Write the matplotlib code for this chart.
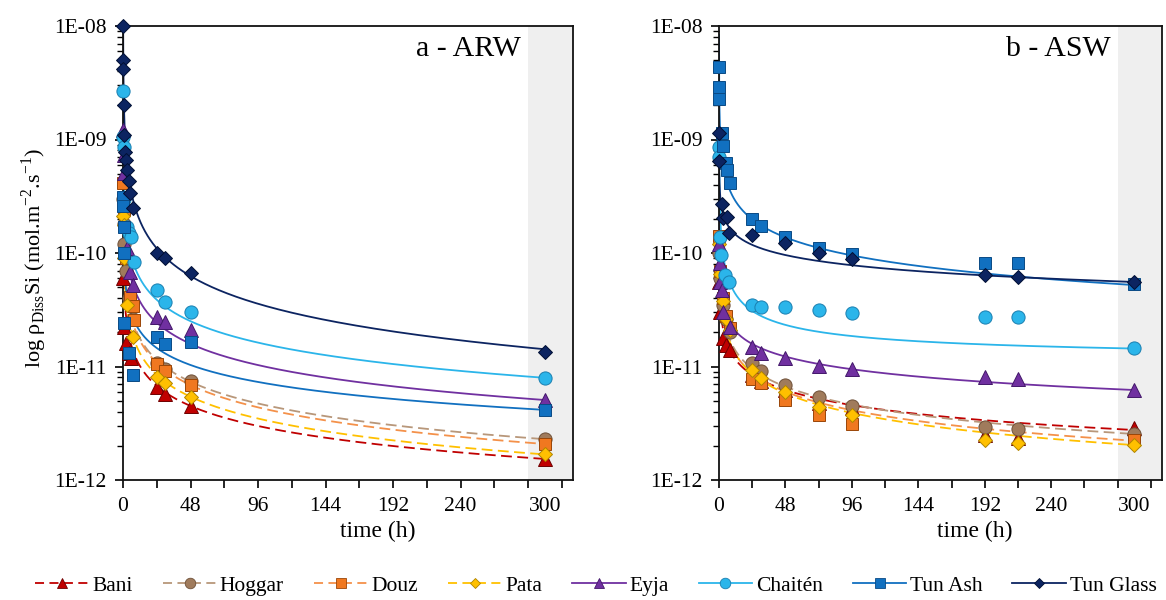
import numpy as np
import matplotlib
matplotlib.use("Agg")
import matplotlib.pyplot as plt
from matplotlib.lines import Line2D
from matplotlib.ticker import FixedLocator, FuncFormatter, LogLocator, NullFormatter

plt.rcParams['font.family'] = ['Liberation Serif', 'DejaVu Serif']
plt.rcParams['mathtext.fontset'] = 'custom'
plt.rcParams['mathtext.rm'] = 'Liberation Serif'

# ---------------- series definitions ----------------
names = ["Bani", "Hoggar", "Douz", "Pata", "Eyja", "Chaitén", "Tun Ash", "Tun Glass"]
fill_colors = ["#C00000", "#A07B5C", "#F07820", "#FFC000", "#7030A0", "#2BB5EA", "#1170C0", "#0C2461"]
edge_colors = ["#6E0000", "#6E5038", "#9A4608", "#B08400", "#43186A", "#1A7FB0", "#0A4A85", "#000F33"]
line_colors = ["#C00000", "#B8977A", "#F4914A", "#FFC000", "#7030A0", "#2BB5EA", "#1170C0", "#0C2461"]
markers = ["^", "o", "s", "D", "^", "o", "s", "D"]
marker_sizes = [9.5, 9.5, 9.0, 7.0, 9.5, 9.5, 9.0, 7.0]
dashed = [True, True, True, True, False, False, False, False]

# ---------------- panel a - ARW data (time h, rate mol m-2 s-1) ----------------
t_arw_bani = [0.1, 0.5, 2, 4, 6, 24, 30, 48, 300]
y_arw_bani = [6.0e-11, 2.24e-11, 1.6e-11, 1.31e-11, 1.2e-11, 6.6e-12, 5.75e-12, 4.5e-12, 1.53e-12]
t_arw_hoggar = [0.1, 0.5, 1, 2, 4, 7, 24, 30, 48, 300]
y_arw_hoggar = [3.0e-10, 1.8e-10, 1.2e-10, 7.0e-11, 4.0e-11, 2.6e-11, 1.08e-11, 9.5e-12, 7.5e-12, 2.29e-12]
t_arw_douz = [0.1, 0.5, 2, 5, 7, 8, 24, 30, 48, 300]
y_arw_douz = [4.1e-10, 2.4e-10, 9.0e-11, 4.1e-11, 3.4e-11, 2.57e-11, 1.05e-11, 9.2e-12, 6.9e-12, 2.07e-12]
t_arw_pata = [0.1, 0.5, 1, 3, 7, 24, 30, 48, 300]
y_arw_pata = [2.1e-10, 1.77e-10, 9.0e-11, 3.5e-11, 1.83e-11, 8.1e-12, 7.1e-12, 5.4e-12, 1.68e-12]
t_arw_eyja = [0.1, 0.5, 1, 3, 5, 7, 24, 30, 48, 300]
y_arw_eyja = [1.21e-9, 7.3e-10, 5.1e-10, 1.1e-10, 6.8e-11, 5.2e-11, 2.75e-11, 2.48e-11, 2.1e-11, 5.07e-12]
t_arw_chaiten = [0.1, 0.25, 0.5, 1, 2.5, 4, 6, 8, 24, 30, 48, 300]
y_arw_chaiten = [2.7e-9, 1.05e-9, 8.6e-10, 3.0e-10, 1.7e-10, 1.5e-10, 1.39e-10, 8.4e-11, 4.72e-11, 3.67e-11, 3.02e-11, 7.96e-12]
t_arw_tunash = [0.1, 0.25, 0.5, 0.75, 1, 4, 7, 24, 30, 48, 300]
y_arw_tunash = [3.1e-10, 2.6e-10, 1.7e-10, 9.9e-11, 2.4e-11, 1.31e-11, 8.4e-12, 1.81e-11, 1.58e-11, 1.66e-11, 4.14e-12]
t_arw_tunglass = [0.08, 0.25, 0.33, 0.5, 1, 1.5, 2, 3, 4, 5, 7, 24, 30, 48, 300]
y_arw_tunglass = [1.0e-8, 5.0e-9, 4.2e-9, 2.0e-9, 1.1e-9, 7.8e-10, 6.6e-10, 5.4e-10, 4.3e-10, 3.4e-10, 2.5e-10,
                  1.0e-10, 9.0e-11, 6.6e-11, 1.35e-11]

# ---------------- panel b - ASW data ----------------
t_asw_bani = [0.1, 1, 3, 5, 8, 24, 30, 48, 72, 96, 192, 216, 300]
y_asw_bani = [5.5e-11, 3.0e-11, 1.8e-11, 1.55e-11, 1.4e-11, 8.5e-12, 7.5e-12, 6.2e-12, 4.8e-12, 4.3e-12, 2.49e-12, 2.33e-12, 2.85e-12]
t_asw_hoggar = [0.1, 1, 3, 5, 8, 24, 30, 48, 72, 96, 192, 216, 300]
y_asw_hoggar = [1.0e-10, 6.0e-11, 3.5e-11, 2.6e-11, 2.0e-11, 1.08e-11, 9.2e-12, 6.9e-12, 5.4e-12, 4.5e-12, 2.95e-12, 2.8e-12, 2.54e-12]
t_asw_douz = [0.1, 1, 3, 5, 8, 24, 30, 48, 72, 96, 300]
y_asw_douz = [1.4e-10, 7.0e-11, 4.0e-11, 2.8e-11, 2.2e-11, 7.7e-12, 7.1e-12, 5.07e-12, 3.74e-12, 3.11e-12, 2.25e-12]
t_asw_pata = [0.1, 1, 3, 5, 8, 24, 30, 48, 72, 96, 192, 216, 300]
y_asw_pata = [1.2e-10, 6.5e-11, 3.8e-11, 2.6e-11, 2.1e-11, 9.4e-12, 7.9e-12, 6.0e-12, 4.43e-12, 3.74e-12, 2.25e-12, 2.13e-12, 2.03e-12]
t_asw_eyja = [0.1, 0.5, 1, 2, 3, 8, 24, 30, 48, 72, 96, 192, 216, 300]
y_asw_eyja = [1.2e-10, 8.1e-11, 5.5e-11, 4.7e-11, 3.0e-11, 2.25e-11, 1.5e-11, 1.31e-11, 1.18e-11, 1.01e-11, 9.6e-12, 8.0e-12, 7.8e-12, 6.2e-12]
t_asw_chaiten = [0.1, 0.3, 1, 1.5, 4, 7, 24, 30, 48, 72, 96, 192, 216, 300]
y_asw_chaiten = [8.65e-10, 7.0e-10, 1.39e-10, 9.6e-11, 6.4e-11, 5.6e-11, 3.48e-11, 3.36e-11, 3.32e-11, 3.15e-11, 2.94e-11, 2.75e-11, 2.75e-11, 1.45e-11]
t_asw_tunash = [0.1, 0.15, 0.2, 2, 3, 5, 6, 8, 24, 30, 48, 72, 96, 192, 216, 300]
y_asw_tunash = [4.39e-9, 2.88e-9, 2.26e-9, 1.14e-9, 8.77e-10, 6.2e-10, 5.37e-10, 4.17e-10, 2.0e-10, 1.74e-10, 1.39e-10, 1.1e-10, 9.8e-11, 8.2e-11, 8.1e-11, 5.3e-11]
t_asw_tunglass = [0.1, 0.3, 2, 3, 6, 7, 24, 48, 72, 96, 192, 216, 300]
y_asw_tunglass = [1.13e-9, 6.45e-10, 2.7e-10, 2.04e-10, 2.09e-10, 1.49e-10, 1.44e-10, 1.22e-10, 1.0e-10, 8.8e-11, 6.35e-11, 6.1e-11, 5.6e-11]

# ---------------- trend-line parameters  y = a * t**b + c ----------------
fit_a_arw = [4.36e-11, 8.61e-11, 8.6e-11, 6.43e-11, 1.76e-10, 2.84e-10, 7.06e-11, 1.44e-9]
fit_b_arw = [-0.587, -0.636, -0.653, -0.639, -0.622, -0.627, -0.497, -0.81]
fit_c_arw = [0, 0, 0, 0, 0, 0, 0, 0]
fit_a_asw = [3.45e-11, 5.05e-11, 4.91e-11, 5.33e-11, 5.12e-11, 1.84e-10, 1.06e-9, 3.04e-10]
fit_b_asw = [-0.443, -0.524, -0.543, -0.573, -0.37, -0.70, -0.528, -0.298]
fit_c_asw = [0, 0, 0, 0, 0, 1.1e-11, 0, 0]

arw_t = [t_arw_bani, t_arw_hoggar, t_arw_douz, t_arw_pata, t_arw_eyja, t_arw_chaiten, t_arw_tunash, t_arw_tunglass]
arw_y = [y_arw_bani, y_arw_hoggar, y_arw_douz, y_arw_pata, y_arw_eyja, y_arw_chaiten, y_arw_tunash, y_arw_tunglass]
asw_t = [t_asw_bani, t_asw_hoggar, t_asw_douz, t_asw_pata, t_asw_eyja, t_asw_chaiten, t_asw_tunash, t_asw_tunglass]
asw_y = [y_asw_bani, y_asw_hoggar, y_asw_douz, y_asw_pata, y_asw_eyja, y_asw_chaiten, y_asw_tunash, y_asw_tunglass]

xtick_pos = [0, 48, 96, 144, 192, 240, 300]
xtick_labels = ["0", "48", "96", "144", "192", "240", "300"]
ytick_vals = [1e-12, 1e-11, 1e-10, 1e-9, 1e-8]
panel_titles = ["a - ARW", "b - ASW"]

# ---------------- figure ----------------
fig = plt.figure(figsize=(11.66, 6.0), dpi=100)
ax1 = fig.add_axes([123 / 1166, 1 - 480 / 600, 450 / 1166, 454 / 600])
ax2 = fig.add_axes([719 / 1166, 1 - 480 / 600, 443 / 1166, 454 / 600])

tcurve = np.geomspace(0.02, 300, 600)


def draw_panel(ax, T, Y, fa, fb, fc, title):
    ax.axvspan(288, 320, color="#EFEFEF", zorder=0, lw=0)
    for i in range(len(names)):
        ls = (0, (6, 3)) if dashed[i] else "-"
        ycurve = fa[i] * tcurve ** fb[i] + fc[i]
        ax.plot(tcurve, ycurve, color=line_colors[i], lw=1.3, linestyle=ls, zorder=2 + i * 0.01)
    for i in range(len(names)):
        ax.plot(T[i], Y[i], linestyle="none", marker=markers[i], ms=marker_sizes[i],
                mfc=fill_colors[i], mec=edge_colors[i], mew=0.7, zorder=3 + i * 0.01, clip_on=False)
    ax.set_yscale("log")
    ax.set_ylim(1e-12, 1e-8)
    ax.set_xlim(0, 320)
    ax.yaxis.set_major_locator(FixedLocator(ytick_vals))
    ax.yaxis.set_major_formatter(FuncFormatter(lambda v, p: "1E-%02d" % int(round(-np.log10(v)))))
    ax.yaxis.set_minor_locator(LogLocator(base=10, subs=np.arange(2, 10)))
    ax.yaxis.set_minor_formatter(NullFormatter())
    ax.tick_params(axis="y", which="major", direction="out", length=6, width=1.2, labelsize=15.5, pad=6)
    ax.tick_params(axis="y", which="minor", direction="out", length=4, width=1.0)
    ax.xaxis.remove_overlapping_locs = False
    ax.xaxis.set_major_locator(FixedLocator(xtick_pos))
    ax.set_xticklabels(xtick_labels)
    ax.xaxis.set_minor_locator(FixedLocator(np.arange(0, 313, 24)))
    ax.tick_params(axis="x", which="major", length=0, labelsize=15.5, pad=12)
    ax.tick_params(axis="x", which="minor", direction="out", length=6, width=1.2)
    for s in ax.spines.values():
        s.set_linewidth(1.3)
        s.set_color("#111111")
    ax.text(0.884, 0.95, title, transform=ax.transAxes, ha="right", va="center", fontsize=21.5)
    ax.set_xlabel("time (h)", fontsize=17)


draw_panel(ax1, arw_t, arw_y, fit_a_arw, fit_b_arw, fit_c_arw, panel_titles[0])
draw_panel(ax2, asw_t, asw_y, fit_a_asw, fit_b_asw, fit_c_asw, panel_titles[1])
ax1.xaxis.set_label_coords(0.567, -0.09)
ax2.xaxis.set_label_coords(0.578, -0.09)
ax1.set_ylabel(r"log ρ$_{\mathregular{Diss}}$Si (mol.m$^{\mathregular{-2}}$.s$^{\mathregular{-1}}$)", fontsize=16)
ax1.yaxis.set_label_coords(-0.165, 0.489)

handles = []
for i in range(len(names)):
    handles.append(Line2D([0], [0], color=line_colors[i], lw=1.3,
                          linestyle=(0, (5, 3)) if dashed[i] else "-",
                          marker=markers[i], ms=marker_sizes[i] * 0.8,
                          mfc=fill_colors[i], mec=edge_colors[i], mew=0.6))
fig.legend(handles, names, loc="center", bbox_to_anchor=(0.511, 0.024), ncol=8, frameon=False,
           fontsize=15.5, handlelength=2.5, columnspacing=1.4, handletextpad=0.15)

fig.savefig("out.png", dpi=100)
